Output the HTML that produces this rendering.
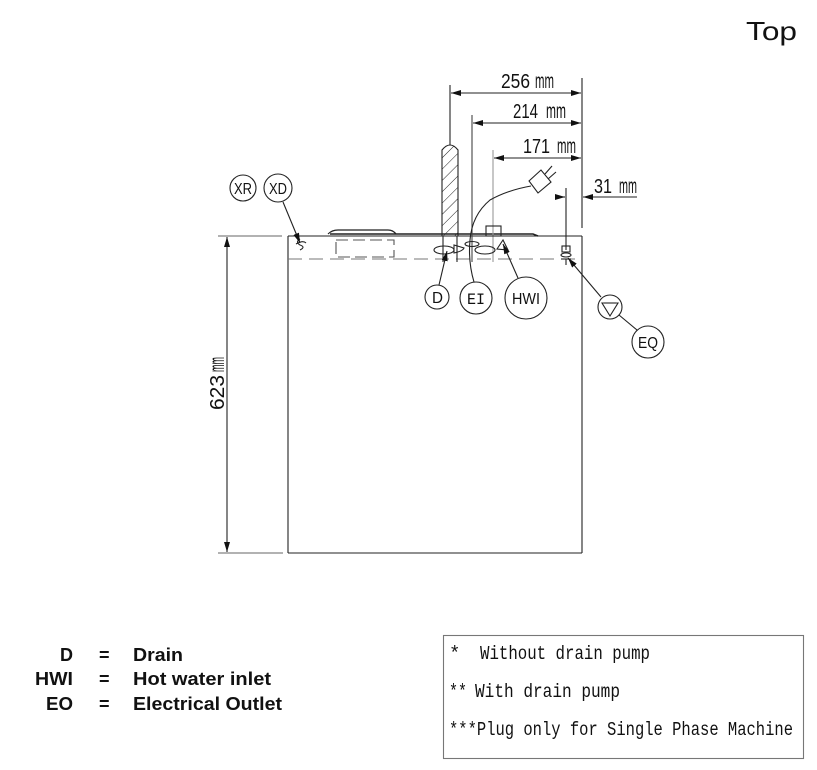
<!DOCTYPE html>
<html><head><meta charset="utf-8"><style>
html,body{margin:0;padding:0;background:#fff;}
svg{display:block;}
text{font-family:"Liberation Sans",sans-serif;fill:#111;}
.m{font-family:"Liberation Mono",monospace;}
</style></head><body>
<svg width="817" height="770" viewBox="0 0 817 770" xmlns="http://www.w3.org/2000/svg">
<defs>
<marker id="a" viewBox="0 0 10 6" refX="10" refY="3" markerWidth="10" markerHeight="6" markerUnits="userSpaceOnUse" orient="auto-start-reverse"><path d="M0,0 L10,3 L0,6 z" fill="#111"/></marker>
<pattern id="h" width="8" height="8" patternUnits="userSpaceOnUse" patternTransform="rotate(45)"><line x1="0" y1="0" x2="0" y2="8" stroke="#222" stroke-width="1"/></pattern>
</defs>

<!-- Top title -->
<text x="746" y="40" font-size="26" textLength="51" lengthAdjust="spacingAndGlyphs">Top</text>

<g stroke="#222" fill="none" stroke-width="1.1">
<!-- main box -->
<line x1="288" y1="236" x2="288" y2="553"/>
<line x1="288" y1="553" x2="582" y2="553"/>
<line x1="582" y1="236" x2="582" y2="553"/>
<line x1="288" y1="236" x2="582" y2="236"/>
<path d="M330,234 L533,234 L538,236" stroke-width="1.6"/>
<path d="M328,234 Q332,230 338,230 L388,230 Q393,230 396,234" stroke-width="1.2"/>
<!-- dashed line -->
<line x1="288" y1="259" x2="582" y2="259" stroke="#777" stroke-dasharray="14,7"/>
<rect x="336" y="240" width="58" height="17" stroke="#555" stroke-dasharray="12,5"/>

<!-- left dimension -->
<line x1="218" y1="236" x2="282" y2="236" stroke="#666"/>
<line x1="218" y1="553" x2="283" y2="553" stroke="#666"/>
<line x1="227" y1="237" x2="227" y2="552" marker-start="url(#a)" marker-end="url(#a)"/>

<!-- top dimension lines -->
<line x1="450" y1="85" x2="450" y2="145"/>
<line x1="582" y1="78" x2="582" y2="228"/>
<line x1="451" y1="93" x2="581" y2="93" marker-start="url(#a)" marker-end="url(#a)"/>
<line x1="472" y1="115" x2="472" y2="262" stroke="#444"/>
<line x1="473" y1="123" x2="581" y2="123" marker-start="url(#a)" marker-end="url(#a)"/>
<line x1="493" y1="150" x2="493" y2="262" stroke="#999"/>
<line x1="494" y1="158" x2="581" y2="158" marker-start="url(#a)" marker-end="url(#a)"/>
<!-- 31 mm -->
<line x1="566" y1="188" x2="566" y2="250"/>
<line x1="555" y1="197" x2="565" y2="197" marker-end="url(#a)"/>
<line x1="637" y1="197" x2="583" y2="197" marker-end="url(#a)"/>

<!-- hatched pipe -->
<path d="M442,236 L442,150 Q450,140 458,150 L458,236 Z" fill="url(#h)"/>
<line x1="443" y1="236" x2="443" y2="262"/>
<line x1="457" y1="236" x2="457" y2="262"/>

<!-- small box -->
<rect x="486" y="226" width="15" height="10"/>

<!-- cord & plug -->
<path d="M474,282 Q468,262 470,240 Q472,215 490,200 Q508,190 531,186"/>
<path d="M529,181 L541,170 L551,182 L538,193 Z" fill="#fff"/>
<line x1="545" y1="174" x2="552" y2="166"/>
<line x1="548" y1="179" x2="556" y2="172"/>

<!-- symbols -->
<ellipse cx="444" cy="250" rx="10" ry="4"/>
<path d="M454,245 L454,253 Q463,251 464,248 Z"/>
<ellipse cx="472" cy="244" rx="7" ry="2.5"/>
<ellipse cx="485" cy="250" rx="10" ry="4"/>
<path d="M497,249 L503,240 L508,250 Z"/>
<!-- EO fitting -->
<rect x="562" y="246" width="8" height="6"/>
<ellipse cx="566" cy="255" rx="5" ry="2"/>
<line x1="561" y1="259" x2="571" y2="259"/>
<line x1="566" y1="259" x2="566" y2="265"/>
<!-- XD fitting squiggle -->
<path d="M300,239 Q295,242 300,245 Q306,247 300,250 M296,244 Q303,240 306,243"/>

<!-- circles -->
<circle cx="243" cy="188" r="13"/>
<circle cx="278" cy="188" r="14"/>
<circle cx="437" cy="297" r="12"/>
<circle cx="476" cy="298" r="16"/>
<circle cx="526" cy="298" r="21"/>
<circle cx="610" cy="307" r="12"/>
<circle cx="648" cy="342" r="16"/>
<path d="M602,303 L618,303 L610,316 Z"/>
<line x1="604" y1="303" x2="616" y2="303"/>

<!-- leaders -->
<line x1="283" y1="202" x2="300" y2="243" marker-end="url(#a)"/>
<line x1="439" y1="285" x2="447" y2="251" marker-end="url(#a)"/>
<line x1="518" y1="278" x2="503" y2="244" marker-end="url(#a)"/>
<line x1="601" y1="297" x2="568" y2="258" marker-end="url(#a)"/>
<line x1="637" y1="330" x2="619" y2="315"/>

<!-- note box -->
<rect x="443.5" y="635.5" width="360" height="123" stroke="#777"/>
</g>

<!-- dimension texts -->
<text x="501" y="88" font-size="20" textLength="29" lengthAdjust="spacingAndGlyphs">256</text>
<text x="535" y="88" font-size="21" textLength="19" lengthAdjust="spacingAndGlyphs">mm</text>
<text x="513" y="118" font-size="20" textLength="25" lengthAdjust="spacingAndGlyphs">214</text>
<text x="546" y="118" font-size="21" textLength="20" lengthAdjust="spacingAndGlyphs">mm</text>
<text x="523" y="153" font-size="20" textLength="27" lengthAdjust="spacingAndGlyphs">171</text>
<text x="557" y="153" font-size="21" textLength="19" lengthAdjust="spacingAndGlyphs">mm</text>
<text x="594" y="193" font-size="20" textLength="18" lengthAdjust="spacingAndGlyphs">31</text>
<text x="619" y="193" font-size="21" textLength="18" lengthAdjust="spacingAndGlyphs">mm</text>
<g transform="translate(224,410) rotate(-90)">
<text x="0" y="0" font-size="20" textLength="35" lengthAdjust="spacingAndGlyphs">623</text>
<text x="38" y="0" font-size="21" textLength="15" lengthAdjust="spacingAndGlyphs">mm</text>
</g>

<!-- circle labels -->
<text x="234" y="194" font-size="16" textLength="18" lengthAdjust="spacingAndGlyphs">XR</text>
<text x="269" y="194" font-size="16" textLength="18" lengthAdjust="spacingAndGlyphs">XD</text>
<text x="432" y="303" font-size="16" textLength="11" lengthAdjust="spacingAndGlyphs">D</text>
<text x="467" y="304" font-size="16" class="m" textLength="18" lengthAdjust="spacingAndGlyphs">EI</text>
<text x="512" y="304" font-size="16" textLength="28" lengthAdjust="spacingAndGlyphs">HWI</text>
<text x="638" y="348" font-size="16" textLength="20" lengthAdjust="spacingAndGlyphs">EQ</text>

<!-- legend -->
<g font-weight="bold" font-size="18">
<text x="73" y="661" text-anchor="end" textLength="13" lengthAdjust="spacingAndGlyphs">D</text>
<text x="73" y="685" text-anchor="end" textLength="38" lengthAdjust="spacingAndGlyphs">HWI</text>
<text x="73" y="710" text-anchor="end" textLength="27" lengthAdjust="spacingAndGlyphs">EO</text>
<text x="99" y="661">=</text>
<text x="99" y="685">=</text>
<text x="99" y="710">=</text>
<text x="133" y="661" textLength="50" lengthAdjust="spacingAndGlyphs">Drain</text>
<text x="133" y="685" textLength="138" lengthAdjust="spacingAndGlyphs">Hot water inlet</text>
<text x="133" y="710" textLength="149" lengthAdjust="spacingAndGlyphs">Electrical Outlet</text>
</g>

<!-- notes -->
<g class="m" font-size="19">
<text x="449" y="659" class="m">*</text>
<text x="480" y="659" class="m" textLength="170" lengthAdjust="spacingAndGlyphs">Without drain pump</text>
<text x="449" y="697" class="m" textLength="18" lengthAdjust="spacingAndGlyphs">**</text>
<text x="475" y="697" class="m" textLength="145" lengthAdjust="spacingAndGlyphs">With drain pump</text>
<text x="449" y="735" class="m" textLength="344" lengthAdjust="spacingAndGlyphs">***Plug only for Single Phase Machine</text>
</g>
</svg>
</body></html>
